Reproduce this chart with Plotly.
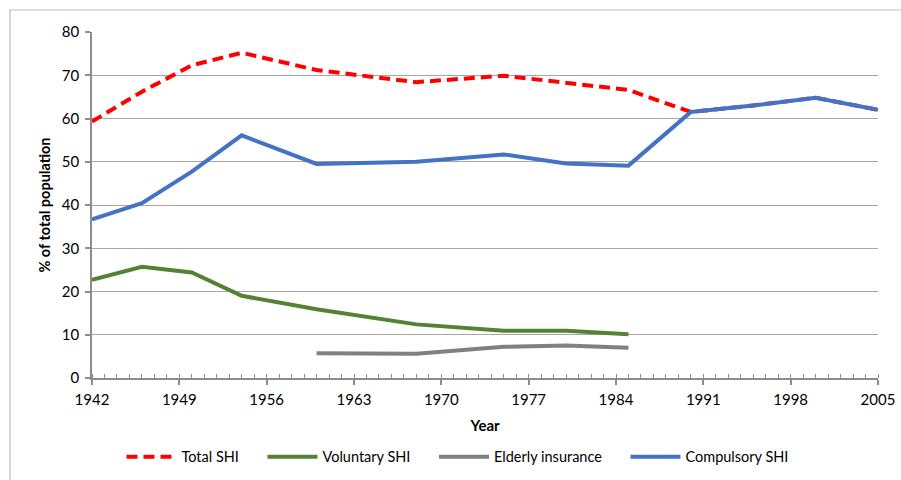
import plotly.graph_objects as go

years = [1942, 1946, 1950, 1954, 1960, 1968, 1975, 1980, 1985, 1990, 1995, 2000, 2005]
total_shi = [59.3, 66.2, 72.3, 75.2, 71.2, 68.4, 69.9, 68.2, 66.6, 61.5, 63.0, 64.8, 62.0]
voluntary_shi = [22.7, 25.7, 24.4, 19.0, 15.9, 12.4, 10.9, 10.9, 10.1, None, None, None, None]
elderly_insurance = [None, None, None, None, 5.7, 5.6, 7.2, 7.5, 7.0, None, None, None, None]
compulsory_shi = [36.7, 40.4, 47.7, 56.1, 49.5, 50.0, 51.7, 49.6, 49.1, 61.5, 63.0, 64.8, 62.0]

x_ticks = list(range(1942, 2006, 7))
y_ticks = list(range(0, 81, 10))

FONT = "Lato"
PAD = "&nbsp;" * 5

fig = go.Figure()
fig.add_trace(go.Scatter(x=years, y=total_shi, name="Total SHI" + PAD, mode="lines",
                         line=dict(color="#FF0000", width=4, dash="11px,6px")))
fig.add_trace(go.Scatter(x=years, y=voluntary_shi, name="Voluntary SHI" + PAD, mode="lines",
                         line=dict(color="#548235", width=4), connectgaps=False))
fig.add_trace(go.Scatter(x=years, y=elderly_insurance, name="Elderly insurance" + PAD, mode="lines",
                         line=dict(color="#808080", width=4), connectgaps=False))
fig.add_trace(go.Scatter(x=years, y=compulsory_shi, name="Compulsory SHI", mode="lines",
                         line=dict(color="#4472C4", width=4)))

fig.update_layout(
    width=901, height=480,
    margin=dict(l=92, r=23, t=32, b=102, autoexpand=False),
    paper_bgcolor="white", plot_bgcolor="white",
    font=dict(family=FONT, size=14, color="#000000"),
    showlegend=True,
    legend=dict(orientation="h", x=0.465, xanchor="center", y=-0.228, yanchor="middle",
                font=dict(family=FONT, size=14.5, color="#000000"), itemwidth=50),
    xaxis=dict(range=[1942, 2005], tickmode="array", tickvals=x_ticks,
               ticktext=[str(v) for v in x_ticks],
               showgrid=False, zeroline=False, automargin=False,
               showline=True, linecolor="#8C8C8C", linewidth=1.5,
               ticks="outside", ticklen=5, tickcolor="#8C8C8C", tickwidth=1.5,
               ticklabelstandoff=2,
               minor=dict(dtick=1, tick0=1942, ticks="inside", ticklen=4,
                          tickcolor="#8C8C8C", tickwidth=1, showgrid=False),
               title=dict(text="<b>Year</b>", font=dict(family=FONT, size=15), standoff=14),
               tickfont=dict(family=FONT, size=15)),
    yaxis=dict(range=[0, 80], tickmode="array", tickvals=y_ticks,
               showgrid=True, gridcolor="#A6A6A6", gridwidth=1.2, zeroline=False, automargin=False,
               showline=True, linecolor="#8C8C8C", linewidth=1.5,
               ticks="outside", ticklen=5, tickcolor="#8C8C8C", tickwidth=1.5,
               ticklabelstandoff=3,
               title=dict(text="<b>% of total population</b>", font=dict(family=FONT, size=14.5), standoff=8),
               tickfont=dict(family=FONT, size=15)),
    shapes=[dict(type="rect", xref="paper", yref="paper",
                 x0=(10 - 92) / 786, x1=1.3, y0=-0.6, y1=(378 - 10) / 346,
                 line=dict(color="#BFBFBF", width=1.2), layer="below")],
)

fig.write_html("out.html", config={"displayModeBar": False},
               post_script="document.body.style.margin='0';document.body.style.padding='0';")
